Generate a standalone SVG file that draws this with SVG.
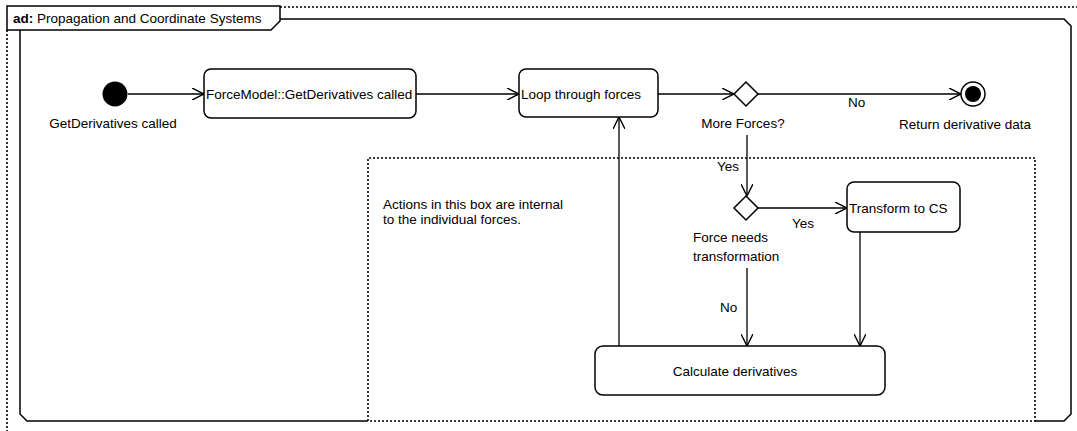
<svg xmlns="http://www.w3.org/2000/svg" width="1077" height="431" viewBox="0 0 1077 431">
<style>
text{font-family:"Liberation Sans",Arial,sans-serif;font-size:13.5px;fill:#000}
.dot{fill:none;stroke:#000;stroke-width:1.6;stroke-dasharray:2,2}
.frame{fill:none;stroke:#000;stroke-width:1.5}
.act{fill:#fff;stroke:#000;stroke-width:1.5}
.edge{fill:none;stroke:#000;stroke-width:1.3}
</style>
<defs>
<marker id="open" viewBox="0 0 12 12" refX="12" refY="6" markerWidth="12" markerHeight="12" markerUnits="userSpaceOnUse" orient="auto">
<path d="M0,0 L12,6 L0,12" fill="none" stroke="#000" stroke-width="1.4"/>
</marker>
</defs>
<rect width="1077" height="431" fill="#fff"/>
<g id="frame">
<line class="dot" x1="280" y1="7" x2="1077" y2="7"/>
<line class="dot" x1="7" y1="30" x2="7" y2="431"/>
<path class="frame" d="M280,19 H1064 L1071,26 V414 L1064,421 H1035 M368,421 H27 L20,414 V30"/>
<path class="act" d="M7,6 H280 V21 L271,30 H7 Z"/>
<text x="13" y="23"><tspan font-weight="bold">ad:</tspan> Propagation and Coordinate Systems</text>
</g>
<g id="internal-box">
<path class="dot" d="M368,421 V158 H1035 V421 H368"/>
<text x="383" y="209">Actions in this box are internal</text>
<text x="383" y="224">to the individual forces.</text>
</g>
<g id="connectors">
<line class="edge" x1="128" y1="94" x2="204" y2="94" marker-end="url(#open)"/>
<line class="edge" x1="416" y1="94" x2="519" y2="94" marker-end="url(#open)"/>
<line class="edge" x1="658" y1="94" x2="734" y2="94" marker-end="url(#open)"/>
<line class="edge" x1="758" y1="94" x2="961" y2="94" marker-end="url(#open)"/>
<line class="edge" x1="747" y1="135" x2="747" y2="196" marker-end="url(#open)"/>
<line class="edge" x1="758" y1="208" x2="847" y2="208" marker-end="url(#open)"/>
<line class="edge" x1="747" y1="268" x2="747" y2="346" marker-end="url(#open)"/>
<line class="edge" x1="860" y1="232" x2="860" y2="346" marker-end="url(#open)"/>
<line class="edge" x1="619" y1="346" x2="619" y2="117" marker-end="url(#open)"/>
<text x="848" y="107">No</text>
<text x="717" y="171">Yes</text>
<text x="792" y="228">Yes</text>
<text x="720" y="312">No</text>
</g>
<g id="start">
<circle cx="115" cy="94" r="12.5" fill="#000"/>
<text x="113" y="128" text-anchor="middle">GetDerivatives called</text>
</g>
<g id="force-model">
<rect class="act" x="204" y="69" width="212" height="49" rx="7"/>
<text x="206" y="99">ForceModel::GetDerivatives called</text>
</g>
<g id="loop">
<rect class="act" x="519" y="69" width="139" height="48" rx="7"/>
<text x="521" y="99">Loop through forces</text>
</g>
<g id="more-forces">
<path class="act" d="M746,82 L758,94 L746,106 L734,94 Z"/>
<text x="743" y="128" text-anchor="middle">More Forces?</text>
</g>
<g id="end">
<circle cx="973" cy="94" r="12" fill="#fff" stroke="#000" stroke-width="1.5"/>
<circle cx="973" cy="94" r="8" fill="#000"/>
<text x="965" y="129" text-anchor="middle">Return derivative data</text>
</g>
<g id="needs-transform">
<path class="act" d="M746,196 L758,208 L746,220 L734,208 Z"/>
<text x="693" y="242">Force needs</text>
<text x="693" y="261">transformation</text>
</g>
<g id="transform">
<rect class="act" x="847" y="182" width="113" height="50" rx="7"/>
<text x="849" y="213">Transform to CS</text>
</g>
<g id="calculate">
<rect class="act" x="595" y="346" width="290" height="49" rx="8"/>
<text x="735" y="376" text-anchor="middle">Calculate derivatives</text>
</g>
</svg>
